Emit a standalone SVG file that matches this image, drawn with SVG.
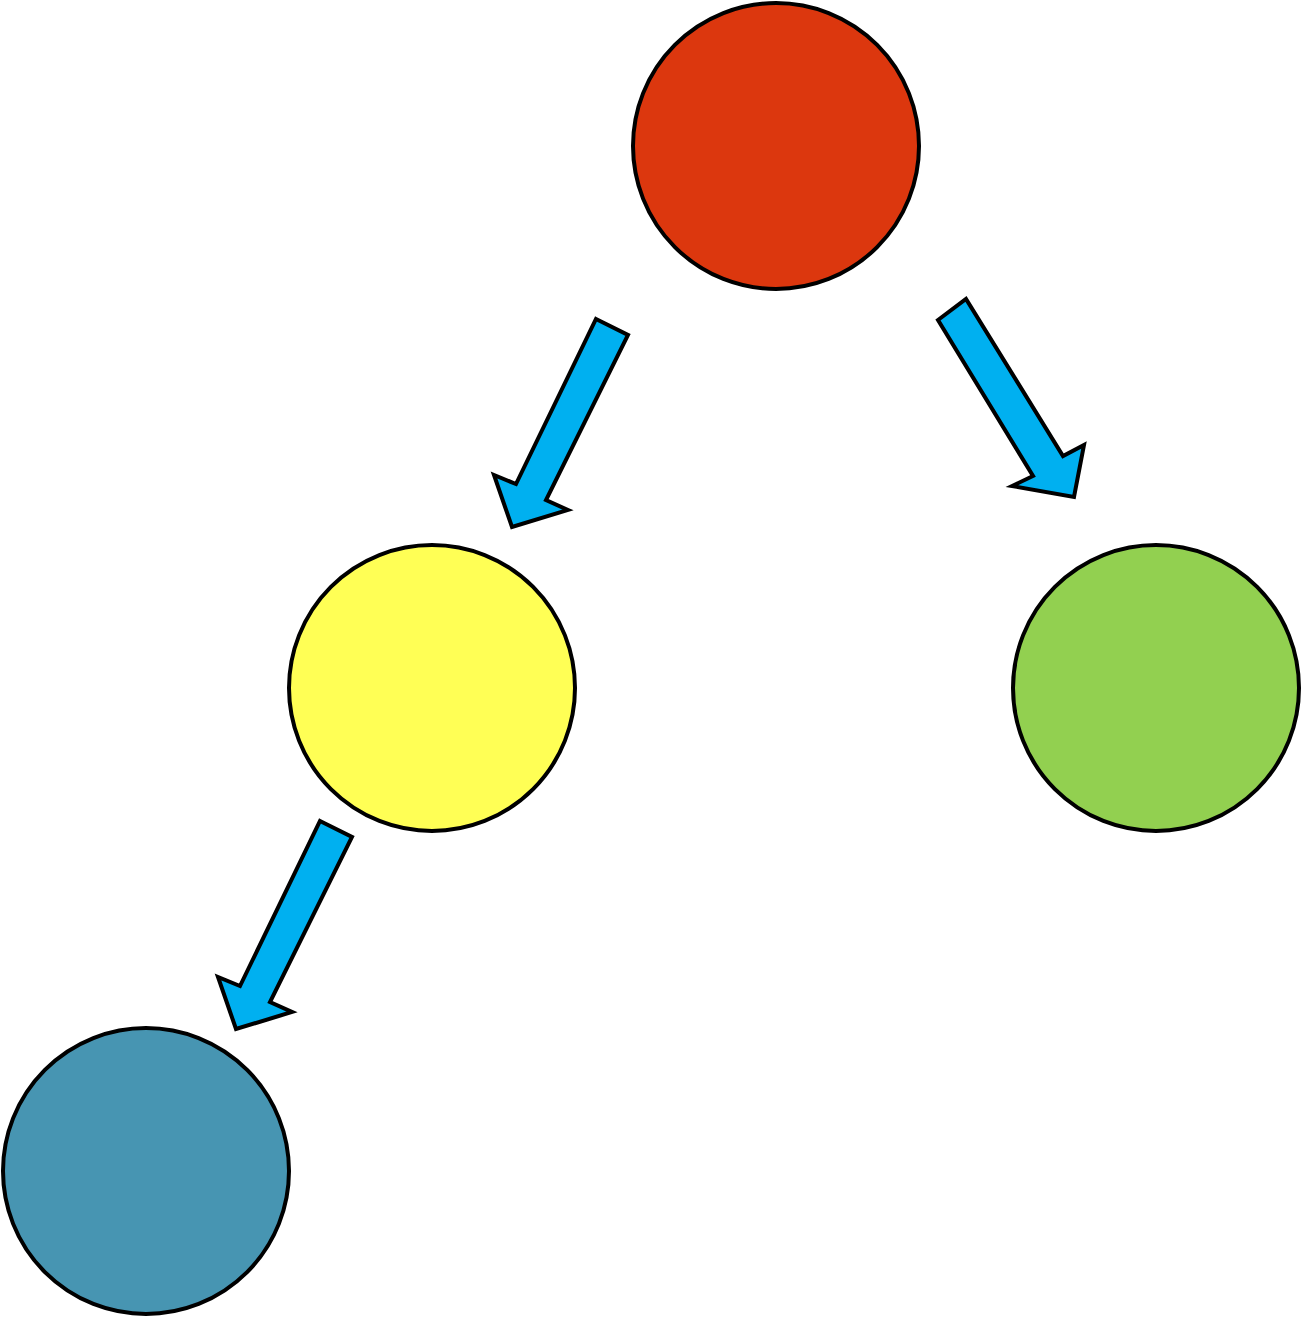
<svg xmlns="http://www.w3.org/2000/svg" width="1302" height="1319" viewBox="0 0 1302 1319">
<style>
.n{stroke:#000;stroke-width:4}
.a{fill:#00B0F0;stroke:#000;stroke-width:4;stroke-linejoin:miter}
</style>
<rect width="1302" height="1319" fill="#fff"/>
<g id="connectors">
<polygon class="a" points="596,319 628,335 546,500 568,510 512,527 494,475 516,484"/>
<polygon class="a" points="938,320 966,299 1063,456 1084,445 1074,497 1012,486 1033,476"/>
<polygon class="a" points="320,821 352,837 270,1002 292,1012 236,1029 218,977 240,986"/>
</g>
<g id="node-red"><circle class="n" cx="776" cy="146" r="143" fill="#DC370E"/></g>
<g id="node-yellow"><circle class="n" cx="432" cy="688" r="143" fill="#FFFF55"/></g>
<g id="node-green"><circle class="n" cx="1156" cy="688" r="143" fill="#92D050"/></g>
<g id="node-blue"><circle class="n" cx="146" cy="1171" r="143" fill="#4795B2"/></g>
</svg>
